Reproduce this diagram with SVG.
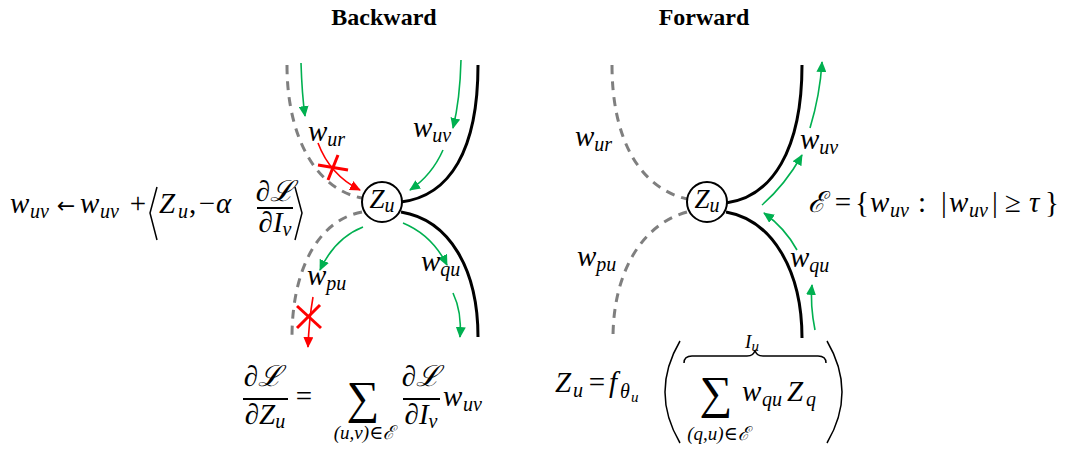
<svg xmlns="http://www.w3.org/2000/svg" width="1069" height="450" viewBox="0 0 1069 450">
<style>
.t{font-family:"Liberation Serif","DejaVu Serif",serif;font-weight:bold;font-size:24px;text-anchor:middle}
.m{font-family:"Liberation Serif","DejaVu Serif",serif;font-style:italic;font-size:29px;fill:#000}
.s{font-size:20px}
.ss{font-size:15px}
.sm{font-size:19px}
.r{font-style:normal}
.c{text-anchor:middle}
.ar{font-family:"DejaVu Sans",sans-serif;font-size:22px;text-anchor:middle}
.gray{fill:none;stroke:#7f7f7f;stroke-width:3;stroke-dasharray:9 7}
.blk{fill:none;stroke:#000;stroke-width:3}
.grn{fill:none;stroke:#00b050;stroke-width:1.6;marker-end:url(#ga)}
.red{fill:none;stroke:#ff0000;stroke-width:1.6;marker-end:url(#ra)}
.x{stroke:#ff0000;stroke-width:3}
.node{fill:#fff;stroke:#000;stroke-width:2}
.del{fill:none;stroke:#000;stroke-width:1.5}
.fl{stroke:#000;stroke-width:2}
</style>
<defs>
<marker id="ga" markerWidth="12" markerHeight="10" refX="10" refY="5" orient="auto" markerUnits="userSpaceOnUse"><path d="M0,0 L11,5 L0,10 Z" fill="#00b050"/></marker>
<marker id="ra" markerWidth="12" markerHeight="10" refX="10" refY="5" orient="auto" markerUnits="userSpaceOnUse"><path d="M0,0 L11,5 L0,10 Z" fill="#ff0000"/></marker>
</defs>

<text class="t" x="384" y="25">Backward</text>
<text class="t" x="704" y="25">Forward</text>

<g id="connectors">
<!-- Backward -->
<path class="gray" d="M287,65 C287,140 318,190 362,198"/>
<path class="gray" d="M362,212 C318,220 292,270 292,337"/>
<path class="blk" d="M401,202 C450,196 478,150 478,65"/>
<path class="blk" d="M401,212 C450,220 478,270 478,337"/>
<path class="grn" d="M301,63 Q302,95 305,116"/>
<path class="grn" d="M461,60 Q460,100 453,128"/>
<path class="grn" d="M443,150 Q432,175 410,190"/>
<path class="grn" d="M363,227 Q335,238 320,270"/>
<path class="grn" d="M403,223 Q432,235 447,265"/>
<path class="grn" d="M453,293 Q462,312 460,337"/>
<path class="red" d="M318,143 Q330,175 360,190"/>
<path class="red" d="M313,297 Q309,320 308,347"/>
<line class="x" x1="318" y1="165" x2="348" y2="170"/>
<line class="x" x1="338" y1="155" x2="328" y2="180"/>
<line class="x" x1="297" y1="306" x2="321" y2="328"/>
<line class="x" x1="320" y1="305" x2="297" y2="328"/>
<!-- Forward -->
<path class="gray" d="M612,65 C612,140 640,188 687,199"/>
<path class="gray" d="M687,212 C640,225 613,275 613,338"/>
<path class="blk" d="M726,203 C772,197 802,150 802,65"/>
<path class="blk" d="M726,212 C772,220 802,270 802,338"/>
<path class="grn" d="M815,330 Q810,305 812,285"/>
<path class="grn" d="M797,250 Q785,228 764,213"/>
<path class="grn" d="M762,205 Q785,185 802,155"/>
<path class="grn" d="M810,128 Q820,95 822,62"/>
</g>

<g id="node-backward">
<circle class="node" cx="382" cy="202" r="20"/>
<text class="m c" x="382" y="208" style="font-size:27px">Z<tspan class="s" dy="4">u</tspan></text>
</g>
<g id="node-forward">
<circle class="node" cx="707" cy="202" r="20"/>
<text class="m c" x="707" y="208" style="font-size:27px">Z<tspan class="s" dy="4">u</tspan></text>
</g>

<g id="labels">
<text class="m" x="308" y="141">w<tspan class="s" dy="5">ur</tspan></text>
<text class="m" x="413" y="137">w<tspan class="s" dy="5">uv</tspan></text>
<text class="m" x="307" y="285">w<tspan class="s" dy="5">pu</tspan></text>
<text class="m" x="421" y="271">w<tspan class="s" dy="5">qu</tspan></text>
<text class="m" x="575" y="146">w<tspan class="s" dy="5">ur</tspan></text>
<text class="m" x="577" y="266">w<tspan class="s" dy="5">pu</tspan></text>
<text class="m" x="800" y="149">w<tspan class="s" dy="5">uv</tspan></text>
<text class="m" x="790" y="267">w<tspan class="s" dy="5">qu</tspan></text>
</g>

<g id="eq-update">
<text class="m" x="10" y="213">w<tspan class="s" x="30" dy="5">uv</tspan></text>
<text class="ar" x="66" y="213">←</text>
<text class="m" x="80" y="213">w<tspan class="s" x="100" dy="5">uv</tspan></text>
<text class="m r c" x="138" y="213">+</text>
<path class="del" d="M157,187 L150,213 L157,240"/>
<text class="m" x="159" y="213">Z<tspan class="s" x="178" dy="5">u</tspan><tspan class="r" x="189" dy="-5">,</tspan></text>
<text class="m r c" x="207" y="213">−</text>
<text class="m" x="216" y="213">α</text>
<text class="m c" x="275" y="201">∂ℒ</text>
<line class="fl" x1="257" y1="208" x2="293" y2="208"/>
<text class="m c" x="275" y="232">∂I<tspan class="s" dy="4">v</tspan></text>
<path class="del" d="M295,187 L302,213 L295,240"/>
</g>

<g id="eq-grad">
<text class="m c" x="263" y="386">∂ℒ</text>
<line class="fl" x1="243" y1="399" x2="288" y2="399"/>
<text class="m c" x="265" y="424">∂Z<tspan class="s" dy="4">u</tspan></text>
<text class="m r c" x="304" y="406">=</text>
<text class="m r c" x="363" y="413" style="font-size:46px">∑</text>
<text class="m c sm" x="364" y="439">(u,v)∈ℰ</text>
<text class="m c" x="421" y="386">∂ℒ</text>
<line class="fl" x1="403" y1="399" x2="440" y2="399"/>
<text class="m c" x="421" y="424">∂I<tspan class="s" dy="4">v</tspan></text>
<text class="m" x="443" y="406">w<tspan class="s" x="463" dy="5">uv</tspan></text>
</g>

<g id="eq-forward">
<text class="m" x="555" y="392">Z<tspan class="s" x="573" dy="5">u</tspan></text>
<text class="m r c" x="597" y="392">=</text>
<text class="m" x="609" y="392">f<tspan class="s" x="620" dy="6">θ</tspan><tspan class="ss" x="631" dy="4">u</tspan></text>
<path class="del" d="M680,341 Q650,392 680,443" stroke-width="2"/>
<path class="del" d="M827,341 Q857,392 827,443" stroke-width="2"/>
<path class="del" d="M684,363 Q684,356 692,356 L747,356 Q754,356 755,350 Q756,356 763,356 L818,356 Q826,356 826,363" stroke-width="1.3"/>
<text class="m c sm" x="752" y="348">I<tspan class="ss" dy="3">u</tspan></text>
<text class="m r c" x="716" y="408" style="font-size:46px">∑</text>
<text class="m c sm" x="718" y="440">(q,u)∈ℰ</text>
<text class="m" x="742" y="401">w<tspan class="s" x="762" dy="5">qu</tspan><tspan x="787" dy="-5">Z</tspan><tspan class="s" x="806" dy="5">q</tspan></text>
</g>

<g id="eq-edges">
<text class="m" x="808" y="212">ℰ</text>
<text class="m r c" x="843" y="212">=</text>
<text class="m r" x="855" y="212">{</text>
<text class="m" x="870" y="212">w<tspan class="s" x="890" dy="5">uv</tspan></text>
<text class="m r c" x="922" y="212">:</text>
<text class="m r" x="941" y="212">|</text>
<text class="m" x="949" y="212">w<tspan class="s" x="969" dy="5">uv</tspan></text>
<text class="m r" x="992" y="212">|</text>
<text class="m r c" x="1013" y="212">≥</text>
<text class="m" x="1029" y="212">τ</text>
<text class="m r" x="1045" y="212">}</text>
</g>
</svg>
